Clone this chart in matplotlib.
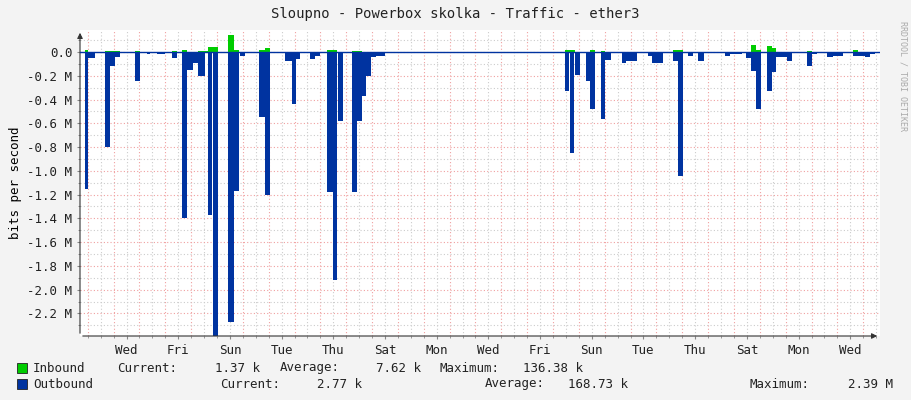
import matplotlib
matplotlib.use("Agg")
import matplotlib.pyplot as plt
from matplotlib.ticker import MultipleLocator

# segments: start day, end day, value (M bits/s)
out_start = [-0.10,0.01,0.67,0.86,1.06,1.83,2.29,2.68,3.26,3.65,3.84,4.07,4.27,4.65,4.85,5.43,5.66,5.90,
             6.63,6.86,7.63,7.90,8.06,8.60,8.79,9.26,9.49,9.68,10.22,10.42,10.61,10.77,10.96,11.16,14.02,
             18.46,18.66,18.85,19.28,19.43,19.86,20.01,20.67,20.82,21.67,21.82,22.06,22.64,22.83,23.22,23.61,
             24.27,24.65,24.85,25.47,25.66,25.85,26.28,26.47,26.63,27.06,27.83,28.02,28.60,28.83,29.60,30.08,30.27]
out_end   = [0.01,0.28,0.86,1.06,1.25,2.02,2.41,2.99,3.45,3.84,4.07,4.27,4.54,4.81,5.04,5.66,5.86,6.09,
             6.86,7.05,7.90,8.06,8.21,8.79,8.98,9.49,9.64,9.87,10.42,10.61,10.77,10.96,11.16,11.51,14.13,
             18.62,18.81,19.04,19.43,19.62,20.01,20.24,20.82,21.25,21.82,22.06,22.25,22.83,23.03,23.41,23.84,
             24.46,24.85,25.30,25.66,25.85,26.05,26.47,26.63,27.06,27.25,28.02,28.20,28.83,29.22,30.08,30.27,30.46]
out_val   = [-1.15,-0.05,-0.80,-0.12,-0.04,-0.24,-0.02,-0.02,-0.05,-1.40,-0.15,-0.09,-0.20,-1.37,-2.39,-2.27,-1.17,-0.03,
             -0.55,-1.20,-0.08,-0.44,-0.06,-0.06,-0.03,-1.18,-1.92,-0.58,-1.18,-0.58,-0.37,-0.20,-0.04,-0.03,-0.01,
             -0.33,-0.85,-0.19,-0.24,-0.48,-0.56,-0.07,-0.09,-0.08,-0.03,-0.09,-0.09,-0.08,-1.04,-0.03,-0.08,
             -0.01,-0.03,-0.02,-0.05,-0.16,-0.48,-0.33,-0.17,-0.04,-0.08,-0.12,-0.02,-0.04,-0.03,-0.03,-0.04,-0.02]

in_start = [-0.10,0.67,1.83,3.26,3.65,4.27,4.65,5.43,5.66,6.63,6.86,9.26,10.22,18.46,19.43,19.86,22.64,25.66,25.85,26.28,26.47,27.83,29.60]
in_end   = [0.01,1.25,2.02,3.45,3.84,4.65,5.04,5.66,5.86,6.86,7.05,9.64,10.61,18.85,19.62,20.01,23.03,25.85,26.05,26.47,26.63,28.02,29.80]
in_val   = [0.02,0.01,0.01,0.01,0.02,0.01,0.04,0.14,0.02,0.02,0.03,0.02,0.01,0.02,0.02,0.01,0.02,0.06,0.02,0.05,0.03,0.01,0.02]

day_labels = ["Wed","Fri","Sun","Tue","Thu","Sat","Mon","Wed","Fri","Sun","Tue","Thu","Sat","Mon","Wed"]

MONO = "DejaVu Sans Mono"
BG = "#f3f3f3"
fig = plt.figure(figsize=(9.11, 4.0), dpi=100, facecolor=BG)
ax = fig.add_axes([80/911, 64/400, 800/911, 306/400])
ax.set_facecolor("white")
ax.set_xlim(-0.3, 30.65)
ax.set_ylim(-2.39, 0.185)

for d in range(0, 31):
    ax.axvline(d, color="#f0a0a0", lw=0.8, ls=(0, (1, 2)), zorder=1)
    ax.axvline(d + 0.5, color="#cccccc", lw=0.8, ls=(0, (1, 2)), zorder=1)
for i in range(-23, 2):
    v = i * 0.1
    col = "#f0a0a0" if i % 2 == 0 else "#cccccc"
    ax.axhline(v, color=col, lw=0.8, ls=(0, (1, 2)), zorder=1)

for s, e, v in zip(out_start, out_end, out_val):
    ax.bar(s, v, width=e - s, align="edge", color="#0033a0", edgecolor="none", zorder=3)
for s, e, v in zip(in_start, in_end, in_val):
    ax.bar(s, v, width=e - s, align="edge", color="#00cc00", edgecolor="none", zorder=3)
ax.axhline(0, color="#0033a0", lw=1, zorder=4)

for sp in ax.spines.values():
    sp.set_visible(False)
ax.annotate("", xy=(30.65, -2.39), xytext=(-0.3, -2.39),
            arrowprops=dict(arrowstyle="-|>", color="#333333", lw=0.8, mutation_scale=8),
            annotation_clip=False)
ax.annotate("", xy=(-0.3, 0.185), xytext=(-0.3, -2.39),
            arrowprops=dict(arrowstyle="-|>", color="#333333", lw=0.8, mutation_scale=8),
            annotation_clip=False)

yt = [i * -0.2 for i in range(12)]
ax.set_yticks(yt)
ax.set_yticklabels(["0.0"] + [f"{v:.1f} M" for v in yt[1:]], fontfamily=MONO, fontsize=9)
ax.yaxis.set_minor_locator(MultipleLocator(0.1))
ax.set_xticks([1.5 + 2 * k for k in range(15)])
ax.set_xticklabels(day_labels, fontfamily=MONO, fontsize=9)
ax.xaxis.set_minor_locator(MultipleLocator(0.5))
ax.tick_params(length=2, color="#888888", labelcolor="#222222")
ax.tick_params(which="minor", length=1.5, color="#888888")
ax.set_ylabel("bits per second", fontfamily=MONO, fontsize=9, labelpad=4)

fig.text(0.5, 1 - 14/400, "Sloupno - Powerbox skolka - Traffic - ether3", ha="center", va="center",
         fontfamily=MONO, fontsize=10, color="#222222")
fig.text(903/911, 0.81, "RRDTOOL / TOBI OETIKER", rotation=270, ha="center", va="center",
         fontfamily=MONO, fontsize=6, color="#aaaaaa")

def t(x, y, s, ha="left"):
    fig.text(x/911, 1 - y/400, s, ha=ha, va="center", fontfamily=MONO, fontsize=9, color="#222222")

fig.patches.append(plt.Rectangle((17/911, 1-373/400), 10/911, 10/400, transform=fig.transFigure,
                                 facecolor="#00cc00", edgecolor="#222222", lw=0.6))
fig.patches.append(plt.Rectangle((17/911, 1-389/400), 10/911, 10/400, transform=fig.transFigure,
                                 facecolor="#0033a0", edgecolor="#222222", lw=0.6))
t(33, 368, "Inbound"); t(117, 368, "Current:"); t(260, 368, "1.37 k", "right")
t(280, 368, "Average:"); t(421, 368, "7.62 k", "right"); t(440, 368, "Maximum:"); t(583, 368, "136.38 k", "right")
t(33, 384, "Outbound"); t(220, 384, "Current:"); t(362, 384, "2.77 k", "right")
t(485, 384, "Average:"); t(628, 384, "168.73 k", "right"); t(750, 384, "Maximum:"); t(893, 384, "2.39 M", "right")

fig.savefig("out.png", dpi=100, facecolor=BG)
